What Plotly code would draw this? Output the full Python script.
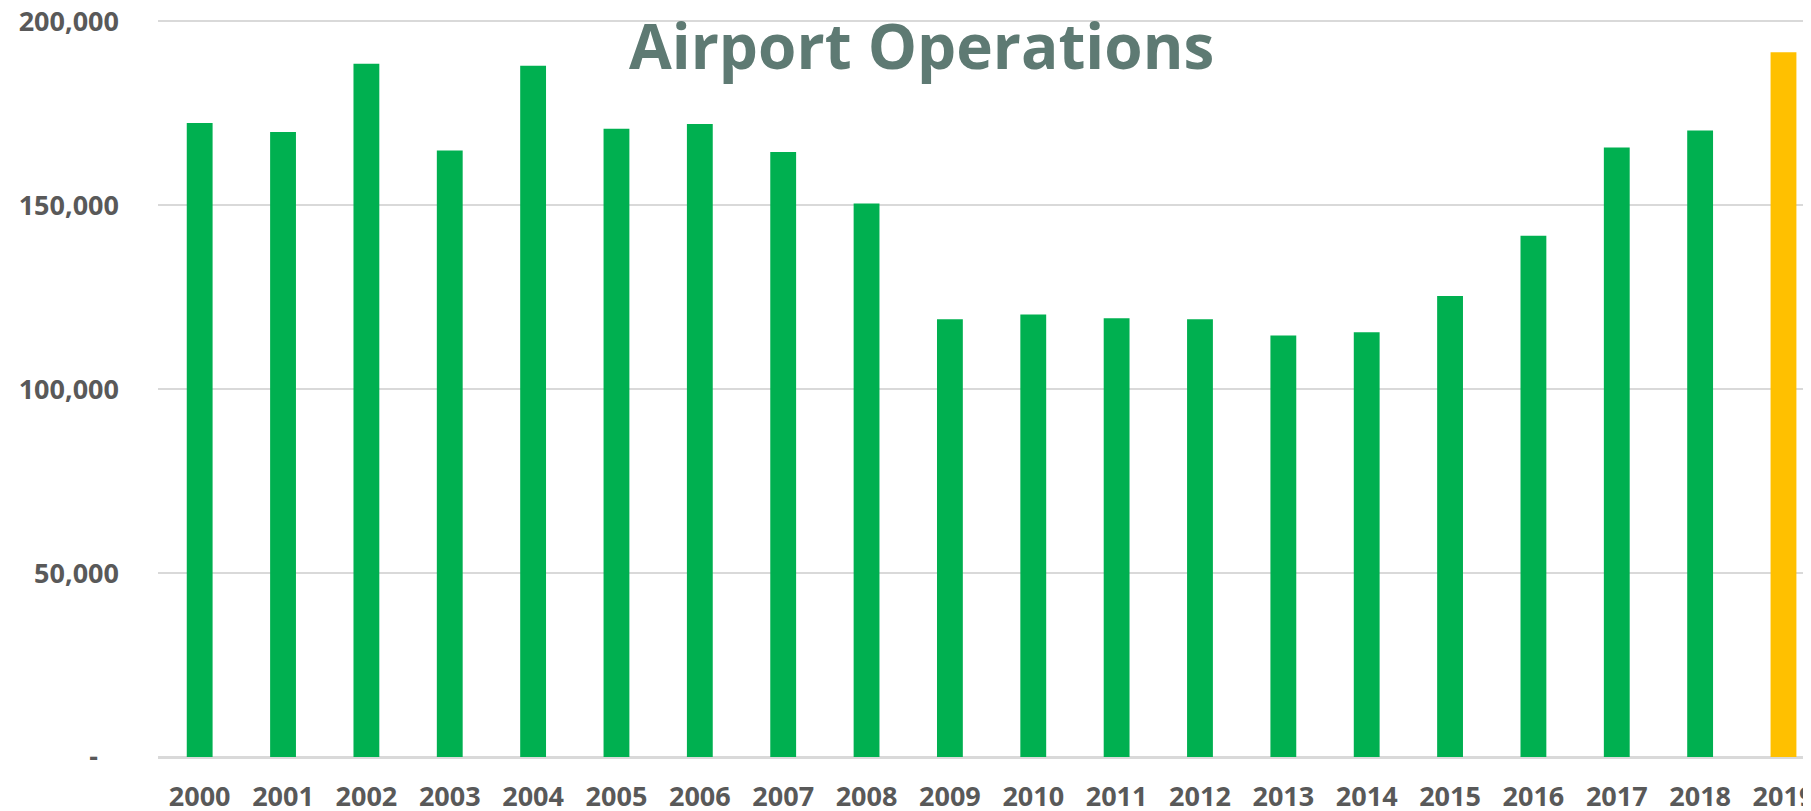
import plotly.graph_objects as go

years = [str(y) for y in range(2000, 2020)]
operations = [172400, 169900, 188500, 164900, 187900, 170800, 172100, 164500, 150500,
              119000, 120300, 119300, 119000, 114600, 115500, 125300, 141700, 165700,
              170300, 191600]
bar_colors = ["#00B050"] * 19 + ["#FFC000"]
tick_vals = [0, 50000, 100000, 150000, 200000]
tick_text = ["-\u00a0\u00a0\u00a0", "50,000", "100,000", "150,000", "200,000"]

FONT = "Open Sans"

fig = go.Figure(go.Bar(
    x=years, y=operations, marker=dict(color=bar_colors, line=dict(width=0)),
    width=0.31,
))

# the page body adds an 8px margin, so the figure is sized to fit the window
W, H = 1803, 803
L, T, B = 150, 6, 54
fig.update_layout(
    width=W, height=H,
    margin=dict(l=L, r=0, t=T, b=B),
    paper_bgcolor="white", plot_bgcolor="white",
    showlegend=False,
    font=dict(family=FONT, color="#595959"),
    annotations=[dict(
        text="<b>Airport Operations</b>",
        x=(913 - L) / (W - L), y=1 - (37 - T) / (H - B - T),
        xref="paper", yref="paper",
        showarrow=False, font=dict(family=FONT, size=62, color="#5E7A73"),
        xanchor="center", yanchor="middle",
    )],
)

fig.update_xaxes(
    range=[-0.5, 19.33], showgrid=False, showline=True, linecolor="#D9D9D9", linewidth=2,
    tickfont=dict(family=FONT, size=27, color="#595959", weight="bold"),
    ticklabelstandoff=15, ticks="", automargin=False, ticklabeloverflow="allow",
)
fig.update_yaxes(
    range=[0, 202000], tickvals=tick_vals, ticktext=tick_text,
    showgrid=True, gridcolor="#D9D9D9", gridwidth=2,
    zeroline=True, zerolinecolor="#D9D9D9", zerolinewidth=2,
    tickfont=dict(family=FONT, size=27, color="#595959", weight="bold"),
    ticklabelstandoff=38, ticks="", automargin=False, ticklabeloverflow="allow",
)

fig.write_html("out.html")
